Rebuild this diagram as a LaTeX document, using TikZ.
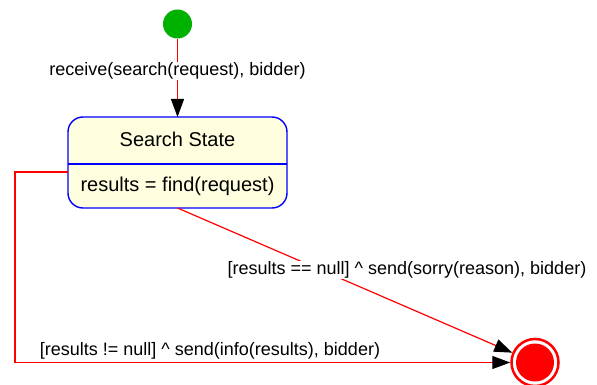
\documentclass[tikz,border=0pt]{standalone}
\usepackage{fontspec}
\setmainfont{Liberation Sans}
\usetikzlibrary{arrows.meta}
\definecolor{initgreen}{RGB}{0,178,0}
\definecolor{statefill}{RGB}{255,255,224}
\begin{document}
\begin{tikzpicture}[x=1pt,y=-1pt,
  lbl/.style={font=\fontsize{18}{20}\selectfont, inner sep=1pt},
  boxtext/.style={font=\fontsize{20}{22}\selectfont, inner sep=1pt},
  trans/.style={draw=red, line width=1.2pt, -{Triangle[length=18pt,width=13pt,color=black]}},
  statebox/.style={draw=blue, line width=1.4pt, fill=statefill, rounded corners=15pt}]
\useasboundingbox (0,0) rectangle (597,385);

% initial pseudo-state
\node[circle, fill=initgreen, minimum size=29pt, inner sep=0pt] (init) at (177.5,24) {};

% the state with its compartments
\draw[statebox] (68,117) rectangle (287,208);
\coordinate (stTop) at (177.5,117);
\coordinate (stBot) at (177.5,208);
\coordinate (stLeft) at (68,172);
\draw[blue, line width=1.4pt] (68,164) -- (287,164);
\node[boxtext] (title) at (177.5,139) {Search State};
\node[boxtext] (body) at (177.5,186) {results = find(request)};

% final state
\node[circle, draw=red, line width=2.5pt, fill=white, minimum size=47pt, inner sep=0pt] (final) at (535,362.5) {};
\node[circle, fill=red, minimum size=38pt, inner sep=0pt] (finalcore) at (final.center) {};

% transitions
\draw[trans] (init) -- (stTop);
\node[lbl, fill=white] (l1) at (177.5,71) {receive(search(request), bidder)};

\draw[trans] (stBot) -- (final);
\node[lbl, fill=white] (l2) at (407,270) {[results == null] \^{} send(sorry(reason), bidder)};

\coordinate (corner1) at (15,172);
\coordinate (corner2) at (15,362.5);
\draw[trans] (stLeft) -- (corner1) -- (corner2) -- (final);
\node[lbl] (l3) at (210,351) {[results != null] \^{} send(info(results), bidder)};
\end{tikzpicture}
\end{document}
